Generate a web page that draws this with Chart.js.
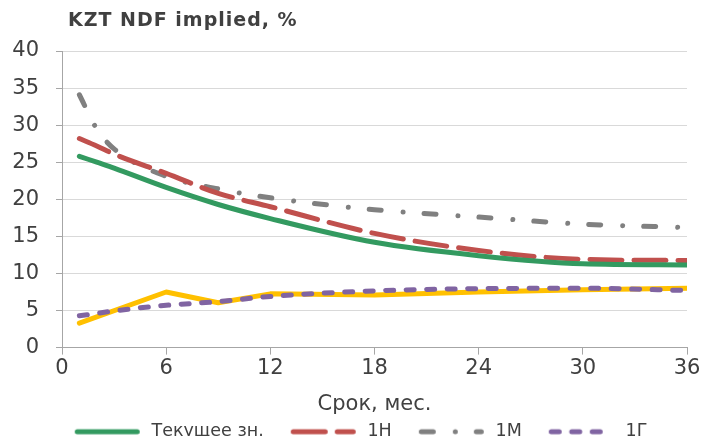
<!DOCTYPE html>
<html>
<head>
<meta charset="utf-8">
<script src="https://cdn.jsdelivr.net/npm/chart.js@4.4.1/dist/chart.umd.min.js"></script>
<style>
  html, body { margin: 0; padding: 0; background: #fff; }
  #wrap { position: relative; width: 704px; height: 437px; }
  #title { position: absolute; left: 68px; top: 8px; font: bold 19px 'DejaVu Sans', sans-serif; letter-spacing: 1px; color: #404040; }
</style>
</head>
<body>
<div id="wrap">
  <div id="title">KZT NDF implied, %</div>
  <canvas id="chart" width="704" height="437"></canvas>
</div>
<script>
// Срок, мес.
const months = [1, 2, 3, 6, 9, 12, 18, 24, 30, 36];

// Ряды
const current = [25.8, 25.0, 24.2, 21.6, 19.3, 17.4, 14.2, 12.4, 11.3, 11.15];
const week1   = [28.2, 27.2, 26.1, 23.5, 20.8, 19.0, 15.4, 13.1, 11.9, 11.75];
const month1  = [34.1, 29.5, 26.8, 23.1, 21.4, 20.2, 18.6, 17.6, 16.65, 16.2];
const year1   = [4.3, 4.6, 4.95, 5.7, 6.2, 6.9, 7.65, 7.95, 8.0, 7.7];
const extra   = [3.3, null, null, 7.5, 6.05, 7.25, 7.1, 7.5, 7.8, 8.0];

const seriesLabels = ['Текущее зн.', '1Н', '1М', '1Г', ''];

// Подписи осей
const xTicks = [0, 6, 12, 18, 24, 30, 36];
const yTicks = [0, 5, 10, 15, 20, 25, 30, 35, 40];

const FONT = "'DejaVu Sans', sans-serif";
const TEXT = '#404040';
const AXIS = '#a6a6a6';

const toPoints = vals => months.map((m, i) => ({ x: m, y: vals[i] }));

function lineSet(label, vals, color, dash, smooth) {
    return {
        label: label,
        data: toPoints(vals),
        borderColor: color,
        backgroundColor: color,
        borderWidth: 5,
        borderDash: dash,
        borderCapStyle: 'round',
        borderJoinStyle: 'round',
        pointRadius: 0,
        pointHoverRadius: 0,
        spanGaps: true,
        tension: smooth ? 0.4 : 0,
        cubicInterpolationMode: smooth ? 'monotone' : 'default',
        fill: false
    };
}

// образец линии для легенды: пустое место слева = промежуток между элементами
const SWATCH_GAP = 23, SWATCH_LINE = 65, SWATCH_TAIL = 3;
function swatch(color, dash) {
    const c = document.createElement('canvas');
    c.width = SWATCH_GAP + SWATCH_LINE + SWATCH_TAIL;
    c.height = 10;
    const g = c.getContext('2d');
    g.strokeStyle = color;
    g.lineWidth = 5;
    g.lineCap = 'round';
    g.setLineDash(dash);
    g.beginPath();
    g.moveTo(SWATCH_GAP + 2.5, 5);
    g.lineTo(SWATCH_GAP + SWATCH_LINE - 2.5, 5);
    g.stroke();
    return c;
}

const datasets = [
    lineSet(seriesLabels[0], current, '#339a60', [], true),
    lineSet(seriesLabels[1], week1, '#c0504d', [32, 12], true),
    lineSet(seriesLabels[2], month1, '#808080', [12, 22, 0.01, 21], true),
    lineSet(seriesLabels[3], year1, '#8064a2', [8, 12.5], true),
    lineSet(seriesLabels[4], extra, '#ffc000', [], false)
];

new Chart(document.getElementById('chart'), {
    type: 'line',
    data: { datasets: datasets },
    options: {
        responsive: false,
        animation: false,
        layout: { padding: { top: 51, left: 12, right: 17, bottom: 1 } },
        plugins: {
            tooltip: { enabled: false },
            title: { display: false },
            legend: {
                position: 'bottom',
                maxHeight: 17,
                labels: {
                    usePointStyle: true,
                    pointStyleWidth: SWATCH_GAP + SWATCH_LINE + SWATCH_TAIL,
                    padding: 4,
                    color: TEXT,
                    font: { family: FONT, size: 17.5 },
                    filter: item => item.text !== '',
                    generateLabels: chart => chart.data.datasets.map((ds, i) => ({
                        text: ds.label,
                        datasetIndex: i,
                        pointStyle: swatch(ds.borderColor, ds.borderDash),
                        strokeStyle: ds.borderColor,
                        fillStyle: ds.borderColor,
                        lineWidth: 0,
                        fontColor: TEXT
                    }))
                }
            }
        },
        scales: {
            x: {
                type: 'linear',
                min: 0,
                max: 36,
                afterBuildTicks: scale => { scale.ticks = xTicks.map(v => ({ value: v })); },
                grid: { drawOnChartArea: false, drawTicks: true, tickLength: 7, tickColor: AXIS },
                border: { color: AXIS, width: 1 },
                ticks: { color: TEXT, font: { family: FONT, size: 21 }, padding: 1.5, maxRotation: 0 },
                title: {
                    display: true,
                    text: 'Срок, мес.',
                    color: TEXT,
                    font: { family: FONT, size: 21 },
                    padding: { top: 9.5, bottom: 1.5 }
                }
            },
            y: {
                min: 0,
                max: 40,
                afterBuildTicks: scale => { scale.ticks = yTicks.map(v => ({ value: v })); },
                afterFit: scale => { scale.width = 50; },
                grid: { color: '#d9d9d9', lineWidth: 1, drawTicks: true, tickLength: 6, tickColor: AXIS },
                border: { color: AXIS, width: 1 },
                ticks: { color: TEXT, font: { family: FONT, size: 21 }, padding: 17 }
            }
        }
    }
});
</script>
</body>
</html>
